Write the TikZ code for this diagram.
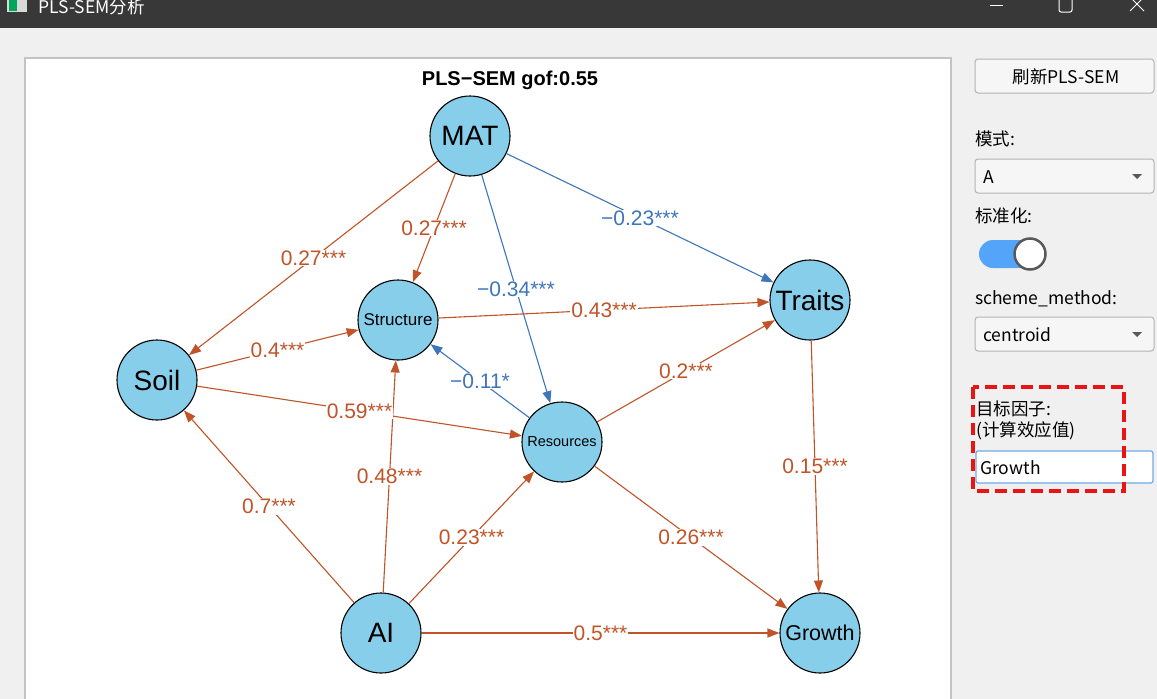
\documentclass[tikz,border=0pt]{standalone}
\usepackage{fontspec}
\setmainfont{Liberation Sans}
\newfontfamily\cjk{Noto Sans CJK SC}
\usetikzlibrary{arrows.meta}
\definecolor{winbar}{RGB}{56,56,56}
\definecolor{winbg}{RGB}{240,240,240}
\definecolor{lvfill}{RGB}{135,206,235}
\definecolor{posedge}{RGB}{192,84,40}
\definecolor{negedge}{RGB}{62,118,186}
\definecolor{uiborder}{RGB}{180,180,180}
\definecolor{togglebg}{RGB}{84,164,250}
\definecolor{focusblue}{RGB}{110,170,230}
\definecolor{markred}{RGB}{235,20,20}

\begin{document}
\begin{tikzpicture}[x=1pt, y=-1pt,
  lv/.style={circle, draw=black, line width=1.1pt, fill=lvfill, minimum size=80pt, inner sep=0pt},
  bigname/.style={font=\fontsize{28}{30}\selectfont},
  pathpos/.style={posedge, line width=1.1pt, -{Triangle[length=12pt,width=9pt]}},
  pathneg/.style={negedge, line width=1.1pt, -{Triangle[length=12pt,width=9pt]}},
  coef/.style={midway, fill=white, inner sep=1pt, font=\fontsize{21}{24}\selectfont},
  uitext/.style={anchor=base west, inner sep=0pt, font=\cjk\fontsize{17.5}{20}\selectfont},
  uibox/.style={draw=uiborder, line width=1pt, fill=white!40!winbg, rounded corners=3pt}
]
\useasboundingbox (0,0) rectangle (1157,699);
\clip (0,0) rectangle (1157,699);
\fill[winbg] (0,0) rectangle (1157,699);

% window bar
\fill[winbar] (0,0) rectangle (1157,28);
\fill[white!85!black] (7,-1) rectangle (27,12);
\fill[teal!70!green] (9,0) rectangle (17,11);
\node[uitext, text=white] (wintitle) at (38,13) {PLS-SEM分析};
\draw[white, line width=1pt] (990,5) -- (1003,5);
\draw[white, line width=1pt, rounded corners=2pt] (1059,-3) rectangle (1072,12);
\draw[white, line width=1pt] (1130,-3) -- (1144,11) (1144,-3) -- (1130,11);

% plot panel
\draw[uiborder!80!white, line width=1.5pt, fill=white] (25,58) rectangle (951,710);
\node[font=\bfseries\fontsize{20}{22}\selectfont] (plottitle) at (510,80) {PLS−SEM gof:0.55};

\node[lv, bigname] (MAT) at (470,136) {MAT};
\node[lv, font=\fontsize{17}{19}\selectfont] (Structure) at (398,320) {Structure};
\node[lv, bigname] (Traits) at (810,300) {Traits};
\node[lv, bigname] (Soil) at (157,380) {Soil};
\node[lv, font=\fontsize{14.5}{17}\selectfont] (Resources) at (562,442) {Resources};
\node[lv, bigname] (AI) at (381,633) {AI};
\node[lv, font=\fontsize{21.5}{24}\selectfont] (Growth) at (820,633) {Growth};

\draw[pathpos] (AI) -- node[coef] {0.48***} (Structure);
\draw[pathpos] (MAT) -- node[coef] {0.27***} (Soil);
\draw[pathpos] (MAT) -- node[coef] {0.27***} (Structure);
\draw[pathneg] (MAT) -- node[coef] {−0.34***} (Resources);
\draw[pathneg] (MAT) -- node[coef] {−0.23***} (Traits);
\draw[pathpos] (Structure) -- node[coef] {0.43***} (Traits);
\draw[pathpos] (Soil) -- node[coef] {0.4***} (Structure);
\draw[pathpos] (Soil) -- node[coef] {0.59***} (Resources);
\draw[pathneg] (Resources) -- node[coef] {−0.11*} (Structure);
\draw[pathpos] (Resources) -- node[coef] {0.2***} (Traits);
\draw[pathpos] (AI) -- node[coef] {0.7***} (Soil);
\draw[pathpos] (AI) -- node[coef] {0.23***} (Resources);
\draw[pathpos] (AI) -- node[coef] {0.5***} (Growth);
\draw[pathpos] (Resources) -- node[coef] {0.26***} (Growth);
\draw[pathpos] (Traits) -- node[coef] {0.15***} (Growth);

% side panel
\draw[uibox] (975,59) rectangle (1154,93);
\node[uitext, anchor=base] (refresh) at (1066,83) {刷新PLS-SEM};
\node[uitext] (modelabel) at (975,145) {模式:};
\draw[uibox] (975,159) rectangle (1154,193);
\node[uitext] (modevalue) at (983,183) {A};
\fill[black!65] (1132,174) -- (1142,174) -- (1137,179) -- cycle;
\node[uitext] (stdlabel) at (975,222) {标准化:};
\fill[togglebg, rounded corners=14pt] (979,240) rectangle (1042,268);
\draw[black!65, line width=2.5pt, fill=white] (1030,254) circle (15.5pt);
\node[uitext] (schemelabel) at (975,304) {scheme\_method:};
\draw[uibox] (975,317) rectangle (1154,351);
\node[uitext] (schemevalue) at (983,341) {centroid};
\fill[black!65] (1132,332) -- (1142,332) -- (1137,337) -- cycle;
\node[uitext] (targetlabel) at (976,415) {目标因子:};
\node[uitext] (targetnote) at (976,436) {(计算效应值)};
\draw[focusblue, line width=1.2pt, fill=white, rounded corners=2pt] (976,451) rectangle (1153,483);
\node[uitext] (targetvalue) at (980,474) {Growth};
\draw[markred, line width=3.5pt, dash pattern=on 12pt off 6pt] (973,387) rectangle (1124,491);
\end{tikzpicture}
\end{document}
